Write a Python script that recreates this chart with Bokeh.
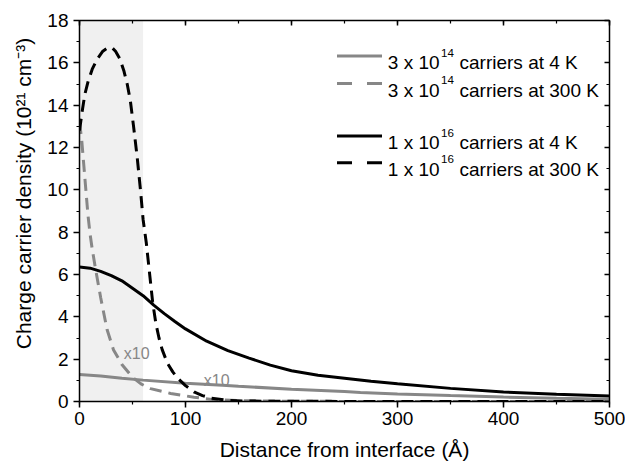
import math
from bokeh.plotting import figure
from bokeh.models import (LinearAxis, Label, BoxAnnotation, Range1d,
                          SingleIntervalTicker, CustomLabelingPolicy)
from bokeh.embed import file_html
from bokeh.resources import INLINE

# ---------------- data ----------------
# 3 x 10^14 carriers at 4 K (shown x10)
x_g4 = [0, 20, 40, 60, 100, 135, 150, 200, 250, 265, 300, 350, 400, 450, 500]
y_g4 = [1.28, 1.21, 1.10, 1.01, 0.86, 0.77, 0.72, 0.58, 0.47, 0.43, 0.36, 0.28, 0.21, 0.15, 0.11]

# 3 x 10^14 carriers at 300 K (shown x10)
x_g300 = [0, 2, 4, 6, 8, 10, 12, 15, 20, 26, 32, 40, 50, 58, 67, 86, 108, 125, 150, 200, 300, 500]
y_g300 = [13.2, 12.4, 11.2, 10.0, 8.8, 7.9, 7.2, 6.3, 4.9, 3.4, 2.45, 1.75, 1.15, 0.83, 0.61,
          0.38, 0.2, 0.1, 0.04, 0.01, 0.0, 0.0]

# 1 x 10^16 carriers at 4 K
x_b4 = [0, 10, 20, 30, 40, 50, 60, 70, 80, 90, 100, 120, 140, 160, 180, 200, 225, 250,
        275, 300, 350, 400, 450, 500]
y_b4 = [6.35, 6.3, 6.15, 5.95, 5.7, 5.35, 5.0, 4.55, 4.15, 3.78, 3.43, 2.85, 2.4, 2.05,
        1.72, 1.45, 1.24, 1.1, 0.96, 0.84, 0.62, 0.45, 0.34, 0.26]

# 1 x 10^16 carriers at 300 K
x_b300 = [0, 2.5, 5, 8, 12, 17, 22, 27, 31, 34, 38, 42, 45, 48, 51, 54.5, 57.6, 60, 63, 66,
          69, 72, 75, 78, 83, 88, 93, 100, 108.5, 116, 124, 140, 160, 200, 300, 500]
y_b300 = [12.8, 13.7, 14.5, 15.1, 15.7, 16.2, 16.55, 16.72, 16.7, 16.55, 16.2, 15.6, 15.0,
          14.2, 13.0, 11.5, 9.95, 8.6, 7.5, 6.1, 4.7, 3.7, 3.0, 2.45, 1.8, 1.4, 1.08, 0.75,
          0.44, 0.28, 0.16, 0.05, 0.02, 0.01, 0.0, 0.0]

shade_range = [0, 60]
x10_labels = ["x10", "x10"]
x10_x = [41.8, 117.3]
x10_y = [2.28, 0.99]

legend_main = ["3 x 10", "3 x 10", "1 x 10", "1 x 10"]
legend_sup = ["14", "14", "16", "16"]
legend_rest = ["carriers at 4 K", "carriers at 300 K", "carriers at 4 K", "carriers at 300 K"]

x_title = "Distance from interface (Å)"
y_title = "Charge carrier density (10²¹ cm⁻³)"

GRAY = "#878787"
BLACK = "#000000"
FONT = "Liberation Sans"

# ---------------- geometry helpers ----------------
L, R, T, B = 79, 609, 20, 401
XMAX, YMAX = 500.0, 18.0
def X(px):
    return (px - L) * XMAX / (R - L)
def Y(py):
    return (B - py) * YMAX / (B - T)

# Arial / Liberation Sans advance widths (per 1000 em)
W = {' ': 278, 'x': 500, 'c': 500, 'a': 556, 'r': 333, 'i': 222, 'e': 556, 's': 500,
     't': 278, 'K': 667, 'C': 722, 'h': 556, 'g': 556, 'd': 556, 'n': 556, 'y': 500,
     '(': 333, ')': 333, 'm': 833, '-': 333}
def tw(s, size):
    return sum(W.get(ch, 556) for ch in s) * size / 1000.0

p = figure(width=625, height=463, output_backend="svg", toolbar_location=None,
           x_range=Range1d(0, 500), y_range=Range1d(0, 18),
           min_border_left=L, min_border_right=625 - R, min_border_top=T,
           min_border_bottom=463 - B)
p.outline_line_color = None
p.background_fill_color = "white"
p.border_fill_color = "white"
p.xgrid.visible = False
p.ygrid.visible = False

no_labels = CustomLabelingPolicy(code="""
for (const i of indices)
    indices.unset(i)
return indices
""")

def style_axis(ax, labels=True, inward=False, interval=100):
    ax.ticker = SingleIntervalTicker(interval=interval, num_minor_ticks=2)
    ax.axis_line_color = BLACK
    ax.axis_line_width = 1.5
    ax.major_tick_line_color = BLACK
    ax.major_tick_line_width = 1.5
    ax.minor_tick_line_color = BLACK
    ax.minor_tick_line_width = 1.2
    if inward:
        ax.major_tick_in, ax.major_tick_out = 5, 0
        ax.minor_tick_in, ax.minor_tick_out = 3, 0
    else:
        ax.major_tick_in, ax.major_tick_out = 0, 6
        ax.minor_tick_in, ax.minor_tick_out = 0, 3
    if labels:
        ax.major_label_text_font = FONT
        ax.major_label_text_font_size = "19px"
        ax.major_label_text_color = BLACK
    else:
        ax.major_label_text_font_size = "0px"
        ax.major_label_standoff = 0
        ax.major_label_policy = no_labels

style_axis(p.xaxis[0], labels=True, inward=False, interval=100)
p.xaxis[0].major_label_standoff = 4
style_axis(p.yaxis[0], labels=True, inward=False, interval=2)
p.yaxis[0].major_label_standoff = 5

# leading no-break spaces nudge the rotated title towards the top, as in the reference
y_title_shifted = "\u00a0" * 6 + y_title
for ax, title, so in ((p.xaxis[0], x_title, 10), (p.yaxis[0], y_title_shifted, 9)):
    ax.axis_label = title
    ax.axis_label_text_font = FONT
    ax.axis_label_text_font_size = "21px"
    ax.axis_label_text_font_style = "normal"
    ax.axis_label_text_color = BLACK
    ax.axis_label_standoff = so
p.xaxis[0].axis_label_text_line_height = 0.5

top = LinearAxis()
style_axis(top, labels=False, inward=True, interval=100)
p.add_layout(top, "above")
right = LinearAxis()
style_axis(right, labels=False, inward=True, interval=2)
p.add_layout(right, "right")

# shaded region
p.add_layout(BoxAnnotation(left=shade_range[0], right=shade_range[1], fill_color="#f0f0f0",
                           fill_alpha=1.0, line_color=None, level="underlay"))

# curves
LW = 3
DASH = "12 7"
p.line(x_g4, y_g4, line_color=GRAY, line_width=LW)
p.line(x_g300, y_g300, line_color=GRAY, line_width=LW, line_dash=DASH)
p.line(x_b4, y_b4, line_color=BLACK, line_width=LW)
p.line(x_b300, y_b300, line_color=BLACK, line_width=LW, line_dash=DASH)

# x10 annotations
for t, xx, yy in zip(x10_labels, x10_x, x10_y):
    p.add_layout(Label(x=xx, y=yy, text=t, text_font=FONT, text_font_size="16px",
                       text_color=GRAY, text_baseline="alphabetic", text_align="left"))

# legend (drawn manually for superscripts)
leg_colors = [GRAY, GRAY, BLACK, BLACK]
leg_dash = ["solid", "15 15", "solid", "15 15"]
baselines = [62, 89.5, 142, 168.7]
MAIN_FS, SUP_FS = 19, 11.6
for i in range(4):
    bl = baselines[i]
    ly = bl - 6.5
    p.line([X(336.5), X(381.5)], [Y(ly), Y(ly)], line_color=leg_colors[i], line_width=LW,
           line_dash=leg_dash[i])
    x0 = 387.3
    p.add_layout(Label(x=X(x0), y=Y(bl), text=legend_main[i], text_font=FONT,
                       text_font_size=f"{MAIN_FS}px", text_color=BLACK,
                       text_baseline="alphabetic", text_align="left"))
    x1 = x0 + tw(legend_main[i], MAIN_FS) + 1.5
    p.add_layout(Label(x=X(x1), y=Y(bl - 10), text=legend_sup[i], text_font=FONT,
                       text_font_size=f"{SUP_FS}px", text_color=BLACK,
                       text_baseline="alphabetic", text_align="left"))
    x2 = x1 + tw(legend_sup[i], SUP_FS) + 0.3 + tw(" ", MAIN_FS)
    p.add_layout(Label(x=X(x2), y=Y(bl), text=legend_rest[i], text_font=FONT,
                       text_font_size=f"{MAIN_FS}px", text_color=BLACK,
                       text_baseline="alphabetic", text_align="left"))

open("out.html", "w").write(file_html(p, INLINE))
